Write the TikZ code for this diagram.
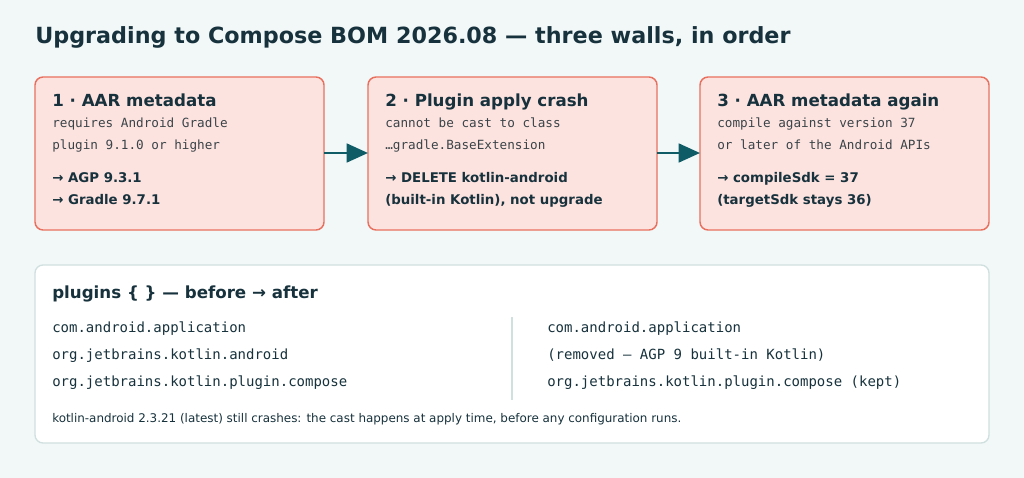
\documentclass[tikz,border=0pt]{standalone}
\usepackage{fontspec}
\setmainfont{DejaVu Sans}
\setmonofont{DejaVu Sans Mono}
\usetikzlibrary{positioning}
\usetikzlibrary{arrows.meta}
\definecolor{bg}{HTML}{F2F7F8}
\definecolor{wallfill}{HTML}{FDE3E0}
\definecolor{walldraw}{HTML}{E8705E}
\definecolor{ink}{HTML}{17323C}
\definecolor{mono}{HTML}{3A4448}
\definecolor{teal}{HTML}{0F5C66}
\definecolor{panel}{HTML}{CFE0DE}
\tikzset{wall/.style={draw=walldraw,fill=wallfill,line width=1.1pt,rounded corners=6pt},
  head/.style={anchor=base west,inner sep=0pt,font=\bfseries\fontsize{12.5}{14}\selectfont,text=ink},
  note/.style={anchor=base west,inner sep=0pt,font=\ttfamily\fontsize{9.5}{16.5}\selectfont,text=mono,align=left},
  fix/.style={anchor=base west,inner sep=0pt,font=\bfseries\fontsize{10}{16.5}\selectfont,text=ink,align=left},
  code/.style={anchor=base west,inner sep=0pt,font=\ttfamily\fontsize{10.5}{12}\selectfont,text=ink},
  wallarrow/.style={-{Triangle[length=16pt,width=14pt]},teal,line width=2pt}}
\begin{document}
\begin{tikzpicture}[x=0.75pt,y=-0.75pt]
\fill[bg] (0,0) rectangle (1024,478);
\useasboundingbox (0,0) rectangle (1024,478);
\node[anchor=base west,inner sep=0pt,font=\bfseries\fontsize{16.7}{20}\selectfont,text=ink] (title) at (35,44) {Upgrading to Compose BOM 2026.08 — three walls, in order};

% the three walls
\draw[wall] (35,77) rectangle (324,230);
\draw[wall] (368,77) rectangle (657,230);
\draw[wall] (700,77) rectangle (989,230);
\coordinate (w1) at (324,153);
\coordinate (w2in) at (368,153);
\coordinate (w2) at (657,153);
\coordinate (w3in) at (700,153);
\draw[wallarrow] (w1) -- (w2in);
\draw[wallarrow] (w2) -- (w3in);

\node[head] (h1) at (52,106) {1 · AAR metadata};
\node[note] (n1) at (52,149) {requires Android Gradle\\plugin 9.1.0 or higher};
\node[fix] (f1) at (52,204) {→ AGP 9.3.1\\→ Gradle 9.7.1};

\node[head] (h2) at (385,106) {2 · Plugin apply crash};
\node[note] (n2) at (385,149) {cannot be cast to class\\…gradle.BaseExtension};
\node[fix] (f2) at (385,204) {→ DELETE kotlin-android\\(built-in Kotlin), not upgrade};

\node[head] (h3) at (717,106) {3 · AAR metadata again};
\node[note] (n3) at (717,149) {compile against version 37\\or later of the Android APIs};
\node[fix] (f3) at (717,204) {→ compileSdk = 37\\(targetSdk stays 36)};

% plugins panel
\draw[draw=panel,fill=white,line width=1pt,rounded corners=6pt] (35,265) rectangle (989,443);
\node[head] (ph) at (52,298) {plugins \{ \} — before → after};
\draw[panel,line width=1pt] (512,317) -- (512,400);
\node[code] (b1) at (52,332) {com.android.application};
\node[code] (b2) at (52,359) {org.jetbrains.kotlin.android};
\node[code] (b3) at (52,386) {org.jetbrains.kotlin.plugin.compose};
\node[code] (a1) at (547,332) {com.android.application};
\node[code] (a2) at (547,359) {(removed — AGP 9 built-in Kotlin)};
\node[code] (a3) at (547,386) {org.jetbrains.kotlin.plugin.compose (kept)};
\node[anchor=base west,inner sep=0pt,font=\fontsize{8.95}{10}\selectfont,text=ink] (foot) at (52,422) {kotlin-android 2.3.21 (latest) still crashes: the cast happens at apply time, before any configuration runs.};
\end{tikzpicture}
\end{document}
